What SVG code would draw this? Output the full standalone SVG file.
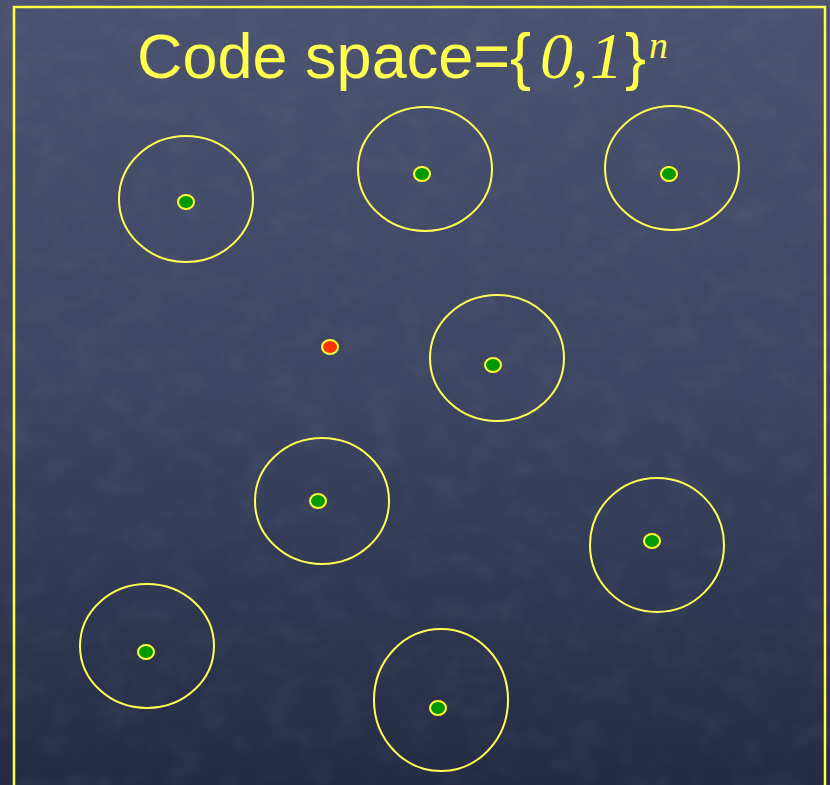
<svg xmlns="http://www.w3.org/2000/svg" width="830" height="785" viewBox="0 0 830 785">
<defs>
<linearGradient id="bg" x1="0" y1="0" x2="0" y2="1">
<stop offset="0" stop-color="#4a5270"/>
<stop offset="0.5" stop-color="#3d4562"/>
<stop offset="1" stop-color="#252b43"/>
</linearGradient>
<filter id="tex" x="0" y="0" width="100%" height="100%">
<feTurbulence type="fractalNoise" baseFrequency="0.03 0.04" numOctaves="4" seed="3" result="n"/>
<feColorMatrix in="n" type="matrix" values="0 0 0 0 1  0 0 0 0 1  0 0 0 0 1  0 0 0 0.7 -0.3" result="a"/>
<feComposite in="a" in2="SourceGraphic" operator="in"/>
</filter>
<style>
.ring{fill:none;stroke:#ffff55;stroke-width:2}
.dot{fill:#009900;stroke:#ffff33;stroke-width:2}
.red{fill:#ff3300;stroke:#ffff33;stroke-width:2}
.t{fill:#ffff4d;font-family:"Liberation Sans",Arial,sans-serif;font-size:63px}
.m{font-family:"Liberation Serif","DejaVu Serif",serif;font-style:italic;font-size:66px}
.sup{font-family:"Liberation Serif","DejaVu Serif",serif;font-style:italic;font-size:38px}
</style>
</defs>
<rect width="830" height="785" fill="url(#bg)"/>
<rect width="830" height="785" fill="#fff" opacity="0.12" filter="url(#tex)"/>
<rect x="14" y="7" width="811" height="800" fill="none" stroke="#ffff44" stroke-width="2.5"/>
<text class="t" x="137" y="78">Code space={<tspan class="m" x="540">0</tspan><tspan class="m" x="572">,</tspan><tspan class="m" x="590">1</tspan><tspan x="625">}</tspan><tspan class="sup" x="649" y="58">n</tspan></text>
<g id="connectors"/>
<g id="n1"><ellipse class="ring" cx="186" cy="199" rx="67" ry="63"/><ellipse class="dot" cx="186" cy="202" rx="8" ry="7"/></g>
<g id="n2"><ellipse class="ring" cx="425" cy="169" rx="67" ry="62"/><ellipse class="dot" cx="422" cy="174" rx="8" ry="7"/></g>
<g id="n3"><ellipse class="ring" cx="672" cy="168" rx="67" ry="62"/><ellipse class="dot" cx="669" cy="174" rx="8" ry="7"/></g>
<g id="n4"><ellipse class="ring" cx="497" cy="358" rx="67" ry="63"/><ellipse class="dot" cx="493" cy="365" rx="8" ry="7"/></g>
<g id="n5"><ellipse class="ring" cx="322" cy="501" rx="67" ry="63"/><ellipse class="dot" cx="318" cy="501" rx="8" ry="7"/></g>
<g id="n6"><ellipse class="ring" cx="657" cy="545" rx="67" ry="67"/><ellipse class="dot" cx="652" cy="541" rx="8" ry="7"/></g>
<g id="n7"><ellipse class="ring" cx="147" cy="646" rx="67" ry="62"/><ellipse class="dot" cx="146" cy="652" rx="8" ry="7"/></g>
<g id="n8"><ellipse class="ring" cx="441" cy="700" rx="67" ry="71"/><ellipse class="dot" cx="438" cy="708" rx="8" ry="7"/></g>
<g id="err"><ellipse class="red" cx="330" cy="347" rx="8" ry="7"/></g>
</svg>
